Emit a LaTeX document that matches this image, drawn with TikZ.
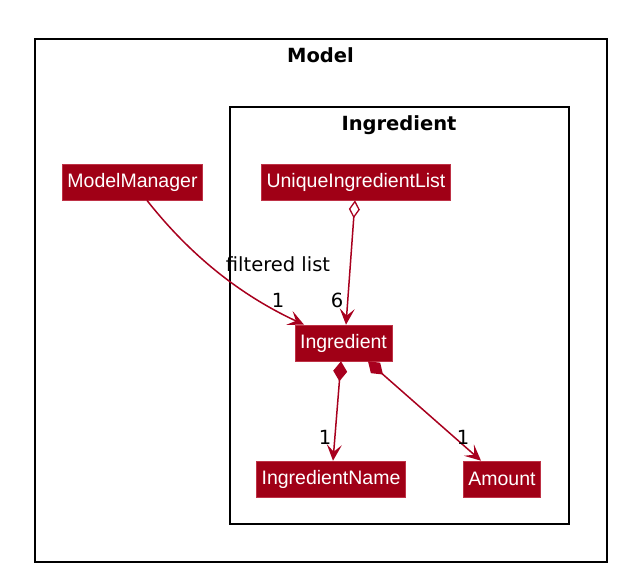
\documentclass[tikz,border=0pt]{standalone}
\usepackage{fontspec}
\setmainfont{Liberation Sans}
\newfontfamily\labelfont{DejaVu Sans}
\usetikzlibrary{arrows.meta}
\definecolor{umlred}{RGB}{160,0,22}
\definecolor{umledge}{RGB}{168,0,30}
\definecolor{umlborder}{RGB}{190,50,70}
\tikzset{
  classbox/.style={draw=umlborder, line width=0.6pt, fill=umlred, text=white,
    font=\fontsize{19.5}{22}\selectfont, inner xsep=5pt, inner ysep=0pt,
    minimum height=36pt, anchor=center},
  framebox/.style={draw=black, line width=1.6pt, fill=none, inner sep=0pt},
  frametitle/.style={font=\labelfont\bfseries\fontsize{19.5}{22}\selectfont, inner sep=0pt},
  elabel/.style={font=\labelfont\fontsize{19.5}{22}\selectfont, inner sep=0pt},
  rel/.style={draw=umledge, line width=1.5pt},
  navarrow/.style={-{Stealth[length=16pt, width=15pt, inset=7pt]}},
  aggr/.style={{Diamond[open, length=18pt, width=11pt, line width=1.3pt]}-{Stealth[length=16pt, width=15pt, inset=7pt]}},
  comp/.style={{Diamond[length=20pt, width=14pt]}-{Stealth[length=16pt, width=15pt, inset=7pt]}}
}
\begin{document}
\begin{tikzpicture}[x=1pt, y=-1pt]
\useasboundingbox (0,0) rectangle (620,578);
\fill[white] (0,0) rectangle (620,578);
% frames
\node[framebox, minimum width=572pt, minimum height=523pt] (model) at (321,300.5) {};
\node[frametitle] (modeltitle) at (320.5,55.5) {Model};
\node[framebox, minimum width=339pt, minimum height=417pt] (ingpkg) at (399.5,315.5) {};
\node[frametitle] (ingtitle) at (399,125) {Ingredient};
% classes
\node[classbox] (mm) at (132.5,182) {ModelManager};
\node[classbox] (uil) at (356,182) {UniqueIngredientList};
\node[classbox] (ing) at (343.5,343) {Ingredient};
\node[classbox] (iname) at (331,479) {IngredientName};
\node[classbox] (amt) at (502,479) {Amount};
% relations
\draw[rel, navarrow] (mm) .. controls (190,255) and (240,295) .. (ing);
\draw[rel, aggr] ([xshift=-1pt]uil.south) -- ([xshift=2.5pt]ing.north);
\draw[rel, comp] ([xshift=-2.5pt]ing.south) -- ([xshift=2pt]iname.north);
\draw[rel, comp] ([xshift=24.5pt]ing.south) -- ([xshift=-21pt]amt.north);
% labels
\node[elabel] (lfl) at (278,264) {filtered list};
\node[elabel] (l1a) at (278,300) {1};
\node[elabel] (l6) at (337,300) {6};
\node[elabel] (l1b) at (325,437) {1};
\node[elabel] (l1c) at (463,437) {1};
\end{tikzpicture}
\end{document}
